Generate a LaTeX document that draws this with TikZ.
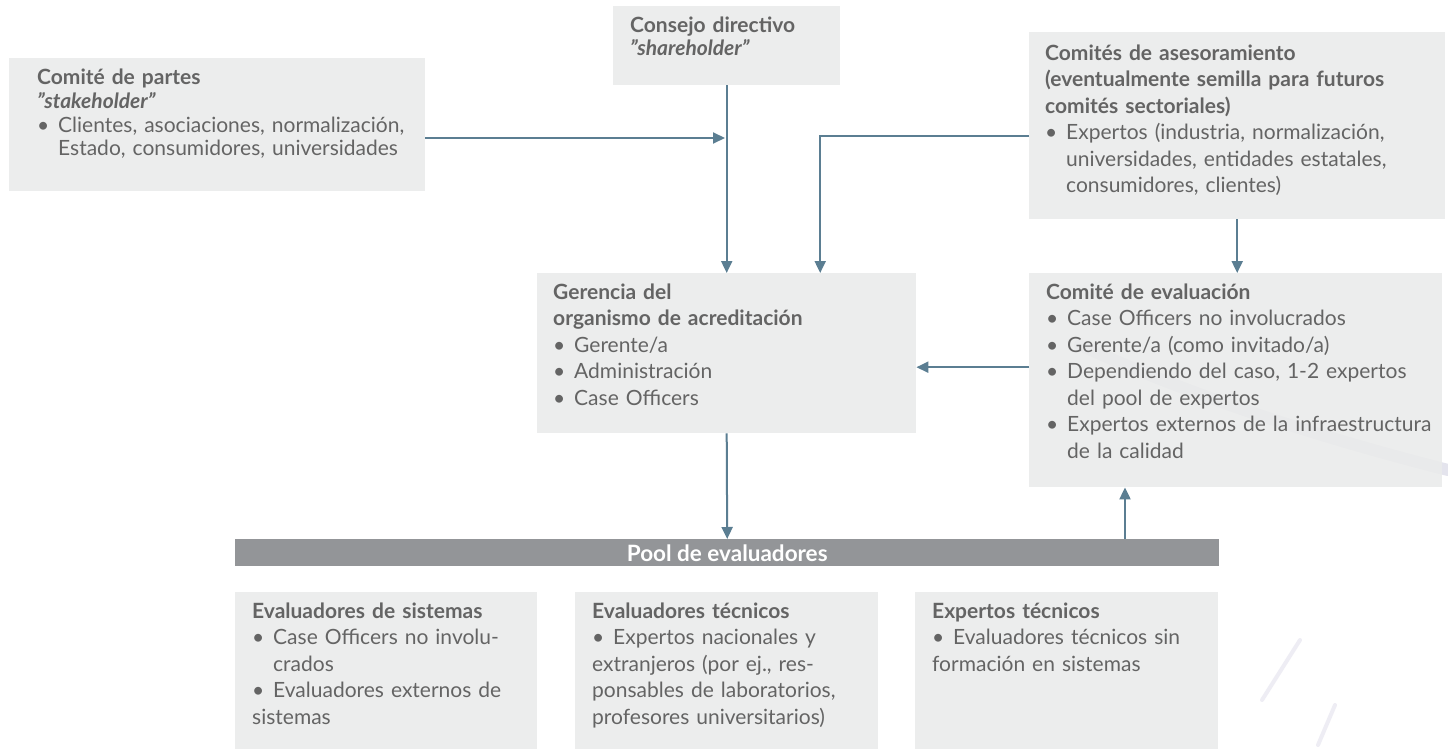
\documentclass[tikz,border=0pt]{standalone}
\usepackage{fontspec}
\setmainfont{Lato}
\usetikzlibrary{arrows.meta}
\definecolor{boxfill}{HTML}{EAEBEB}
\definecolor{txt}{HTML}{646464}
\definecolor{arr}{HTML}{5B7E92}
\definecolor{poolfill}{HTML}{939598}
\definecolor{wm}{HTML}{CFCEE0}
\newcommand{\bitem}[1]{\par\noindent\hangindent=1em\hangafter=1\makebox[1em][l]{\textbullet}#1}
\newcommand{\bflat}[1]{\par\noindent\makebox[1em][l]{\textbullet}#1}
\newcommand{\ttl}[1]{\textbf{#1}}
\tikzset{
  box/.style={fill=boxfill, fill opacity=0.88, draw=none, anchor=north west, inner sep=0pt},
  txtnode/.style={anchor=north west, inner sep=0pt, text=txt, text width=400pt,
     font=\fontsize{21}{26.5}\selectfont\raggedright},
  tighttxt/.style={txtnode, font=\fontsize{21}{23.7}\selectfont\raggedright},
  conn/.style={draw=arr, line width=2pt},
  arrowconn/.style={conn, -{Triangle[length=12pt,width=11pt]}},
}
\begin{document}
\begin{tikzpicture}[x=1pt,y=-1pt]
\useasboundingbox (0,0) rectangle (1448,749);
\fill[white] (0,0) rectangle (1448,749);
% faint watermark of the background photo
\draw[wm, line width=12pt, opacity=0.55, line cap=round] (1080,345) .. controls (1200,400) and (1330,440) .. (1448,470);
\draw[wm, line width=4pt, opacity=0.35, line cap=round] (1300,640) -- (1262,700);
\draw[wm, line width=4pt, opacity=0.35, line cap=round] (1335,705) -- (1318,745);
% boxes
\node[box, minimum width=416pt, minimum height=133pt] (partes) at (9,58) {};
\node[box, minimum width=227pt, minimum height=79pt] (consejo) at (613,6) {};
\node[box, minimum width=416pt, minimum height=187pt] (ases) at (1029,32) {};
\node[box, minimum width=379pt, minimum height=160pt] (geren) at (537,273) {};
\node[box, minimum width=413pt, minimum height=214pt] (eval) at (1029,273) {};
\node[box, fill=poolfill, fill opacity=1, minimum width=984pt, minimum height=27pt] (pool) at (235,539) {};
\node[text=white, font=\bfseries\fontsize{22.5}{24}\selectfont] (pooltxt) at ([yshift=-1pt]pool.center) {Pool de evaluadores};
\node[box, minimum width=302pt, minimum height=157pt] (sis) at (235,592) {};
\node[box, minimum width=303pt, minimum height=157pt] (tec) at (575,592) {};
\node[box, minimum width=303pt, minimum height=157pt] (exp) at (915,592) {};
% texts (top = first baseline - 0.7 baselineskip)
\node[tighttxt] (partesT) at (37,68) {\strut\ttl{Comité de partes}\newline\textbf{\textit{"stakeholder"}}\bitem{Clientes, asociaciones, normalización,\newline Estado, consumidores, universidades}\par};
\node[tighttxt] (consejoT) at (630,15.4) {\strut\ttl{Consejo directivo}\newline\textbf{\textit{"shareholder"}}\par};
\node[txtnode] (asesT) at (1045,41.5) {\strut\ttl{Comités de asesoramiento}\newline\ttl{(eventualmente semilla para futuros}\newline\ttl{comités sectoriales)}\bitem{Expertos (industria, normalización,\newline universidades, entidades estatales,\newline consumidores, clientes)}\par};
\node[txtnode] (gerenT) at (553,280.5) {\strut\ttl{Gerencia del}\newline\ttl{organismo de acreditación}\bitem{Gerente/a}\bitem{Administración}\bitem{Case Officers}\par};
\node[txtnode] (evalT) at (1046,280.5) {\strut\ttl{Comité de evaluación}\bitem{Case Officers no involucrados}\bitem{Gerente/a (como invitado/a)}\bitem{Dependiendo del caso, 1-2 expertos\newline del pool de expertos}\bitem{Expertos externos de la infraestructura\newline de la calidad}\par};
\node[txtnode] (sisT) at (252,599.5) {\strut\ttl{Evaluadores de sistemas}\bitem{Case Officers no involu-\newline crados}\bflat{Evaluadores externos de\newline sistemas}\par};
\node[txtnode] (tecT) at (592,599.5) {\strut\ttl{Evaluadores técnicos}\bflat{Expertos nacionales y\newline extranjeros (por ej., res-\newline ponsables de laboratorios,\newline profesores universitarios)}\par};
\node[txtnode] (expT) at (932,599.5) {\strut\ttl{Expertos técnicos}\bflat{Evaluadores técnicos sin\newline formación en sistemas}\par};
% connectors
\coordinate (j1) at (726.5,138);
\draw[arrowconn, shorten >=1.5pt] (partes.east |- j1) -- (j1);
\draw[arrowconn] (consejo.south) -- (geren.north);
\draw[arrowconn] ([yshift=-10.5pt]ases.west) -| ([xshift=93.5pt]geren.north);
\draw[arrowconn] (ases.south) -- (ases.south |- eval.north);
\draw[arrowconn] ([yshift=13pt]eval.west) -- ([yshift=13pt]eval.west -| geren.east);
\draw[arrowconn] (geren.south) -- (pool.north);
\coordinate (pu) at (1125,539);
\draw[arrowconn] (pu) -- (pu |- eval.south);
\end{tikzpicture}
\end{document}
